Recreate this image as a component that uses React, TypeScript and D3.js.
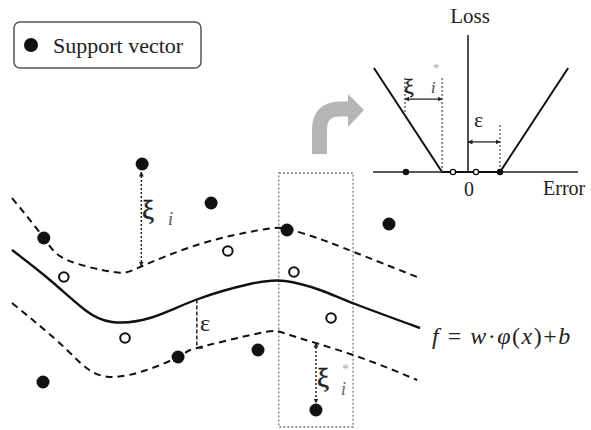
import React, { useEffect, useRef } from 'react';
import * as d3 from 'd3';

// main panel: x in input units, y in units of epsilon
const regX = [0, 0.93, 1.79, 2.45, 3.38, 4.53, 5.83, 6.69, 7.55, 8.41, 10];
const regY = [1.44, 0.84, 0.24, 0, 0.08, 0.45, 0.76, 0.82, 0.64, 0.36, -0.12];
const upperX = [0, 0.78, 1.35, 2.48, 3.14, 4.61, 6.08, 6.74, 7.55, 8.38, 9.93];
const upperY = [2.48, 1.68, 1.24, 1.0, 1.1, 1.56, 1.84, 1.86, 1.66, 1.4, 0.9];
const lowerX = [0, 1.35, 2.48, 4.07, 4.53, 6.08, 6.81, 8.36, 9.93];
const lowerY = [0.38, -0.56, -1.1, -0.7, -0.52, -0.22, -0.26, -0.66, -1.16];

const supportX = [3.19, 4.88, 0.78, 6.74, 9.24, 4.07, 6.03, 0.76, 7.45];
const supportY = [3.16, 2.38, 1.68, 1.84, 1.96, -0.7, -0.56, -1.2, -1.76];
const insideX = [1.27, 5.29, 2.77, 6.91, 7.82];
const insideY = [0.9, 1.42, -0.32, 1.0, 0.08];

// zoomed window
const windowX = [6.54, 8.36];
const windowY = [2.98, -2.1];

// inset: epsilon-insensitive loss
const lossErr = [-2.94, -0.81, 1.0, 3.13];
const lossVal = [3.25, 0, 0, 3.25];
const axisErr = [-2.97, 3.44];
const axisLoss = [0, 4.28];
const insetSupport = [-1.94, 1.0];
const insetInside = [-0.47, 0.25];

const App: React.FC = () => {
  const svgRef = useRef<SVGSVGElement | null>(null);

  useEffect(() => {
    if (!svgRef.current) return;
    const W = 591, H = 430;
    const font = "'Liberation Serif', 'Times New Roman', serif";

    d3.select(svgRef.current).selectAll('*').remove();
    const svg = d3.select(svgRef.current)
      .attr('width', W)
      .attr('height', H)
      .style('font-family', font);

    const defs = svg.append('defs');
    defs.append('marker')
      .attr('id', 'ah')
      .attr('viewBox', '0 0 10 10')
      .attr('refX', 9)
      .attr('refY', 5)
      .attr('markerWidth', 5)
      .attr('markerHeight', 5)
      .attr('markerUnits', 'userSpaceOnUse')
      .attr('orient', 'auto-start-reverse')
      .append('path')
      .attr('d', 'M0,0 L10,5 L0,10 z')
      .attr('fill', '#222');

    const x = d3.scaleLinear().domain([0, 10]).range([12, 420]);
    const y = d3.scaleLinear().domain([0, 1]).range([322, 272]);

    const line = d3.line<[number, number]>()
      .x(d => x(d[0]))
      .y(d => y(d[1]))
      .curve(d3.curveNatural);

    // legend
    svg.append('rect')
      .attr('x', 14).attr('y', 22).attr('width', 187).attr('height', 46)
      .attr('rx', 6)
      .attr('fill', 'none').attr('stroke', '#555').attr('stroke-width', 1.5);
    svg.append('circle').attr('cx', 31).attr('cy', 45).attr('r', 7).attr('fill', '#111');
    svg.append('text')
      .attr('x', 53).attr('y', 53)
      .attr('font-size', 22)
      .attr('fill', '#222')
      .text('Support vector');

    // zoom window
    svg.append('rect')
      .attr('x', x(windowX[0])).attr('y', y(windowY[0]))
      .attr('width', x(windowX[1]) - x(windowX[0]))
      .attr('height', y(windowY[1]) - y(windowY[0]))
      .attr('fill', 'none')
      .attr('stroke', '#777')
      .attr('stroke-width', 1.3)
      .attr('stroke-dasharray', '2,2');

    // regression function and tube
    svg.append('path')
      .attr('d', line(regX.map((v, i) => [v, regY[i]]))!)
      .attr('fill', 'none').attr('stroke', '#111').attr('stroke-width', 2.4);
    [[upperX, upperY], [lowerX, lowerY]].forEach(([xs, ys]) => {
      svg.append('path')
        .attr('d', line(xs.map((v, i) => [v, ys[i]]))!)
        .attr('fill', 'none').attr('stroke', '#111').attr('stroke-width', 2)
        .attr('stroke-dasharray', '7,5');
    });

    // slack markers
    const vArrow = (xv: number, y0: number, y1: number) => {
      svg.append('line')
        .attr('x1', x(xv)).attr('x2', x(xv))
        .attr('y1', y(y0)).attr('y2', y(y1))
        .attr('stroke', '#222').attr('stroke-width', 1.5)
        .attr('stroke-dasharray', '2,2')
        .attr('marker-start', 'url(#ah)')
        .attr('marker-end', 'url(#ah)');
    };
    vArrow(3.17, 1.12, 3.0);
    vArrow(7.45, -0.42, -1.62);

    // epsilon marker
    svg.append('line')
      .attr('x1', x(4.53)).attr('x2', x(4.53))
      .attr('y1', y(0.45)).attr('y2', y(-0.52))
      .attr('stroke', '#222').attr('stroke-width', 1.5)
      .attr('stroke-dasharray', '4,2');
    svg.append('line')
      .attr('x1', x(4.53)).attr('x2', x(4.53) + 6)
      .attr('y1', y(-0.52)).attr('y2', y(-0.52))
      .attr('stroke', '#222').attr('stroke-width', 1.5);

    // points
    svg.selectAll('.sv')
      .data(supportX.map((v, i) => [v, supportY[i]]))
      .enter().append('circle')
      .attr('cx', d => x(d[0])).attr('cy', d => y(d[1]))
      .attr('r', 6.5).attr('fill', '#111');
    svg.selectAll('.nsv')
      .data(insideX.map((v, i) => [v, insideY[i]]))
      .enter().append('circle')
      .attr('cx', d => x(d[0])).attr('cy', d => y(d[1]))
      .attr('r', 4.8).attr('fill', '#fff')
      .attr('stroke', '#111').attr('stroke-width', 2);

    // labels
    const greek = (px: number, py: number, s: string, size: number, sw: number) =>
      svg.append('text').attr('x', px).attr('y', py).attr('font-size', size)
        .attr('fill', '#222').attr('stroke', '#222').attr('stroke-width', sw).text(s);
    greek(142, 219, 'ξ', 27, 0.5);
    svg.append('text').attr('x', 168).attr('y', 225).attr('font-size', 18)
      .attr('font-style', 'italic').attr('fill', '#555').text('i');
    greek(317, 387, 'ξ', 27, 0.5);
    svg.append('text').attr('x', 341).attr('y', 395).attr('font-size', 18)
      .attr('font-style', 'italic').attr('fill', '#666').text('i');
    svg.append('text').attr('x', 342).attr('y', 374).attr('font-size', 14).attr('fill', '#aaa').text('*');
    greek(200, 331, 'ε', 24, 0);

    // formula
    const f = svg.append('text').attr('x', 432).attr('y', 344).attr('font-size', 24)
      .attr('letter-spacing', 1.5).attr('fill', '#222');
    f.append('tspan').attr('font-style', 'italic').text('f');
    f.append('tspan').text(' = ');
    f.append('tspan').attr('font-style', 'italic').text('w');
    f.append('tspan').text('·');
    f.append('tspan').attr('font-style', 'italic').text('φ');
    f.append('tspan').text('(');
    f.append('tspan').attr('font-style', 'italic').text('x');
    f.append('tspan').text(')+');
    f.append('tspan').attr('font-style', 'italic').text('b');

    // gray arrow
    svg.append('path')
      .attr('d', 'M319.5,154 V130 Q319.5,109 340,109 H349')
      .attr('fill', 'none').attr('stroke', '#b5b5b5').attr('stroke-width', 15);
    svg.append('path')
      .attr('d', 'M348,94 L364,110 L348,127 Z')
      .attr('fill', '#b5b5b5');

    // inset
    const ex = d3.scaleLinear().domain([0, 1]).range([468, 500]);
    const ly = d3.scaleLinear().domain([0, 1]).range([172, 140]);
    const g = svg.append('g');

    g.append('line')
      .attr('x1', ex(axisErr[0])).attr('x2', ex(axisErr[1]))
      .attr('y1', ly(0)).attr('y2', ly(0))
      .attr('stroke', '#222').attr('stroke-width', 1.6);
    g.append('line')
      .attr('x1', ex(0)).attr('x2', ex(0))
      .attr('y1', ly(axisLoss[0])).attr('y2', ly(axisLoss[1]))
      .attr('stroke', '#222').attr('stroke-width', 1.6);

    const lossLine = d3.line<number>()
      .x(d => ex(d))
      .y((_, i) => ly(lossVal[i]));
    g.append('path')
      .attr('d', lossLine(lossErr)!)
      .attr('fill', 'none').attr('stroke', '#111').attr('stroke-width', 2);

    // inset xi* marker
    const dotted = (x1: number, y1: number, x2: number, y2: number) =>
      g.append('line')
        .attr('x1', ex(x1)).attr('x2', ex(x2))
        .attr('y1', ly(y1)).attr('y2', ly(y2))
        .attr('stroke', '#555').attr('stroke-width', 1.3)
        .attr('stroke-dasharray', '2,2');
    dotted(-1.97, 2.94, -1.97, 1.78);
    dotted(-0.81, 2.94, -0.81, 0);
    dotted(1.0, 1.47, 1.0, 0);
    const hArrow = (x1: number, x2: number, yv: number) =>
      g.append('line')
        .attr('x1', ex(x1)).attr('x2', ex(x2))
        .attr('y1', ly(yv)).attr('y2', ly(yv))
        .attr('stroke', '#222').attr('stroke-width', 1.3)
        .attr('marker-start', 'url(#ah)')
        .attr('marker-end', 'url(#ah)');
    hArrow(-1.97, -0.81, 2.28);
    hArrow(0, 1.0, 0.94);

    g.selectAll('.isv')
      .data(insetSupport)
      .enter().append('circle')
      .attr('cx', d => ex(d)).attr('cy', ly(0))
      .attr('r', 3.2).attr('fill', '#111');
    g.selectAll('.insv')
      .data(insetInside)
      .enter().append('circle')
      .attr('cx', d => ex(d)).attr('cy', ly(0))
      .attr('r', 2.6).attr('fill', '#fff')
      .attr('stroke', '#111').attr('stroke-width', 1.3);

    g.append('text').attr('x', ex(0) + 2).attr('y', 23).attr('text-anchor', 'middle')
      .attr('font-size', 21).attr('fill', '#222').text('Loss');
    g.append('text').attr('x', ex(0) + 1).attr('y', 196).attr('text-anchor', 'middle')
      .attr('font-size', 20).attr('fill', '#222').text('0');
    g.append('text').attr('x', 543).attr('y', 195)
      .attr('font-size', 20).attr('fill', '#222').text('Error');
    g.append('text').attr('x', 404).attr('y', 94).attr('font-size', 22)
      .attr('fill', '#222').attr('stroke', '#222').attr('stroke-width', 0.4).text('ξ');
    g.append('text').attr('x', 431).attr('y', 93).attr('font-size', 16)
      .attr('font-style', 'italic').attr('fill', '#444').text('i');
    g.append('text').attr('x', 433).attr('y', 72).attr('font-size', 13).attr('fill', '#aaa').text('*');
    g.append('text').attr('x', 474).attr('y', 127).attr('font-size', 22)
      .attr('fill', '#222').text('ε');
  }, []);

  return (
    <div style={{ position: 'absolute', left: 0, top: 0 }}>
      <svg ref={svgRef}></svg>
    </div>
  );
};

export default App;
